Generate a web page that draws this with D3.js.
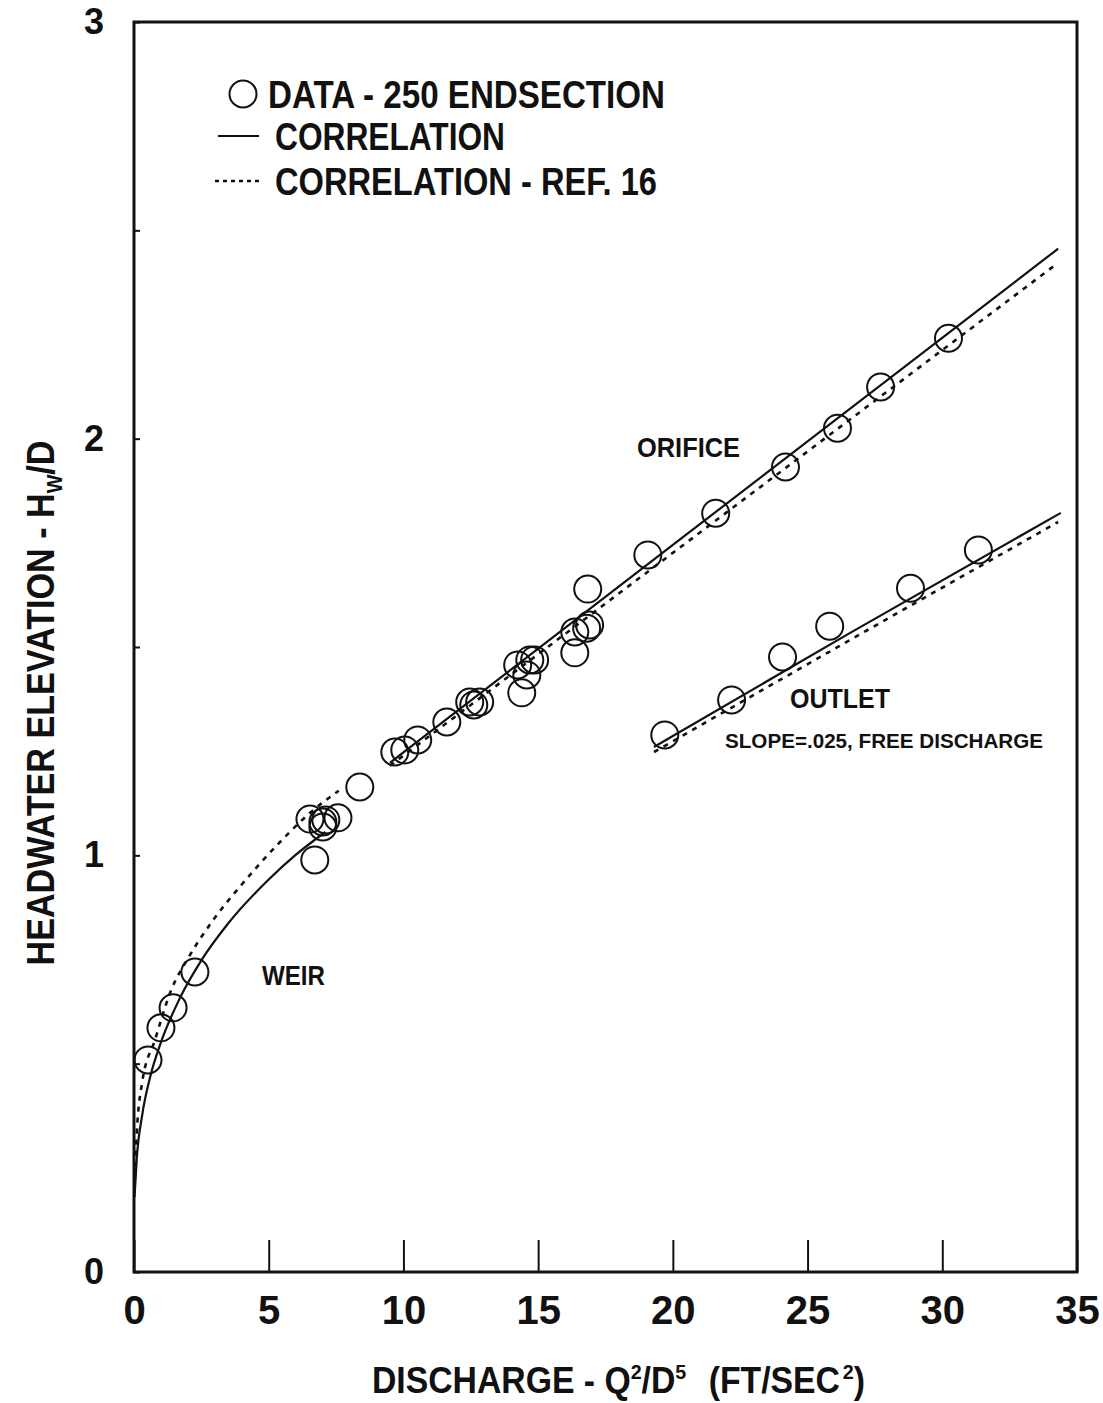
<!DOCTYPE html>
<html>
<head>
<meta charset="utf-8">
<script src="https://cdn.jsdelivr.net/npm/d3@7"></script>
<style>
  body { margin: 0; background: #fff; }
  text { font-family: "Liberation Sans Narrow", "Liberation Sans", Arial, sans-serif; font-weight: bold; fill: #111; }
</style>
</head>
<body>
<div id="chart"></div>
<script>
// data (x = Q^2/D^5, y = Hw/D)
const weirX = [0.52, 1.00, 1.45, 2.26];
const weirY = [0.509, 0.586, 0.634, 0.720];

const orificeX = [6.53, 7.01, 7.01, 7.12, 7.57, 6.71, 8.38, 9.68, 10.05, 10.53, 11.61,
                  12.46, 12.61, 12.83, 14.24, 14.69, 14.58, 14.39, 14.87,
                  16.36, 16.36, 16.80, 16.91, 16.84, 19.07, 21.59, 24.18, 26.11, 27.71, 30.23];
const orificeY = [1.087, 1.080, 1.068, 1.085, 1.090, 0.989, 1.164, 1.248, 1.253, 1.277, 1.320,
                  1.368, 1.361, 1.368, 1.457, 1.469, 1.433, 1.390, 1.469,
                  1.486, 1.536, 1.545, 1.553, 1.639, 1.721, 1.821, 1.932, 2.025, 2.124, 2.241];

const outletX = [19.70, 22.18, 24.07, 25.82, 28.82, 31.34];
const outletY = [1.289, 1.373, 1.476, 1.550, 1.641, 1.733];

// correlation curves (solid)
const corrWeirX = [0.02, 0.1, 0.3, 0.6, 1.0, 1.7, 2.5, 3.5, 5.0, 6.0, 7.1];
const corrWeirY = [0.18, 0.27, 0.375, 0.468, 0.551, 0.657, 0.748, 0.837, 0.942, 1.001, 1.056];
const corrOrificeX = [9.5, 20, 34.3];
const corrOrificeY = [1.222, 1.745, 2.456];
const corrOutletX = [19.3, 26.5, 34.4];
const corrOutletY = [1.26, 1.531, 1.822];

// correlation - ref. 16 (dashed)
const refWeirX = [0.02, 0.1, 0.3, 0.78, 1.34, 2.08, 3.0, 4.0, 5.42, 6.5, 7.6];
const refWeirY = [0.2, 0.33, 0.454, 0.557, 0.67, 0.761, 0.85, 0.93, 1.032, 1.1, 1.155];
const refOrificeX = [9.5, 20, 34.2];
const refOrificeY = [1.215, 1.726, 2.417];
const refOutletX = [19.3, 26.5, 34.3];
const refOutletY = [1.248, 1.514, 1.80];

const xTicks = [0, 5, 10, 15, 20, 25, 30, 35];
const yTicks = [0, 0.5, 1, 1.5, 2, 2.5, 3];

const W = 1103, H = 1403;
const x = d3.scaleLinear().domain([0, 35]).range([134, 1077]);
const y = d3.scaleLinear().domain([0, 3]).range([1272, 22]);

const svg = d3.select("#chart").append("svg")
  .attr("width", W).attr("height", H);

const zip = (xs, ys) => xs.map((v, i) => [v, ys[i]]);
const line = d3.line().x(d => x(d[0])).y(d => y(d[1])).curve(d3.curveMonotoneX);

// x axis: long inward ticks, labels below
const xAxis = svg.append("g")
  .attr("transform", `translate(0,${y(0)})`)
  .call(d3.axisBottom(x).tickValues(xTicks).tickSizeInner(-32).tickSizeOuter(0).tickPadding(24)
    .tickFormat(d3.format("d")));
xAxis.select(".domain").remove();
xAxis.selectAll("line").attr("stroke", "#111").attr("stroke-width", 2);
xAxis.selectAll("text").attr("font-size", 40).attr("fill", "#111")
  .style("font-family", '"Liberation Sans Narrow", "Liberation Sans", Arial, sans-serif')
  .style("font-weight", "bold");

// y axis: short inward ticks at halves, integer labels
const yAxis = svg.append("g")
  .attr("transform", `translate(${x(0)},0)`)
  .call(d3.axisLeft(y).tickValues(yTicks).tickSizeInner(-6).tickSizeOuter(0).tickPadding(30)
    .tickFormat(d => Number.isInteger(d) ? d : ""));
yAxis.select(".domain").remove();
yAxis.selectAll("line").attr("stroke", "#111").attr("stroke-width", 2);
yAxis.selectAll("text").attr("font-size", 36).attr("fill", "#111")
  .style("font-family", '"Liberation Sans Narrow", "Liberation Sans", Arial, sans-serif')
  .style("font-weight", "bold");

// frame
svg.append("rect")
  .attr("x", x(0)).attr("y", y(3))
  .attr("width", x(35) - x(0)).attr("height", y(0) - y(3))
  .attr("fill", "none").attr("stroke", "#111").attr("stroke-width", 3);

// curves
const solid = [zip(corrWeirX, corrWeirY), zip(corrOrificeX, corrOrificeY), zip(corrOutletX, corrOutletY)];
const dashed = [zip(refWeirX, refWeirY), zip(refOrificeX, refOrificeY), zip(refOutletX, refOutletY)];

svg.append("g").selectAll("path").data(solid).enter().append("path")
  .attr("d", line).attr("fill", "none").attr("stroke", "#111").attr("stroke-width", 2.2);

svg.append("g").selectAll("path").data(dashed).enter().append("path")
  .attr("d", line).attr("fill", "none").attr("stroke", "#111").attr("stroke-width", 2.6)
  .attr("stroke-dasharray", "5,6");

// data circles
const pts = zip(weirX, weirY).concat(zip(orificeX, orificeY), zip(outletX, outletY));
svg.append("g").selectAll("circle").data(pts).enter().append("circle")
  .attr("cx", d => x(d[0])).attr("cy", d => y(d[1])).attr("r", 13.5)
  .attr("fill", "none").attr("stroke", "#111").attr("stroke-width", 2);

// legend
svg.append("circle").attr("cx", 243).attr("cy", 94).attr("r", 13.5)
  .attr("fill", "none").attr("stroke", "#111").attr("stroke-width", 2);
svg.append("line").attr("x1", 218).attr("x2", 259).attr("y1", 136).attr("y2", 136)
  .attr("stroke", "#111").attr("stroke-width", 2.2);
svg.append("line").attr("x1", 215).attr("x2", 262).attr("y1", 181).attr("y2", 181)
  .attr("stroke", "#111").attr("stroke-width", 2.4).attr("stroke-dasharray", "4,4");

function label(txt, px, py, size, len) {
  const t = svg.append("text").attr("x", px).attr("y", py).attr("font-size", size).text(txt);
  if (len) t.attr("textLength", len).attr("lengthAdjust", "spacingAndGlyphs");
  return t;
}
label("DATA - 250 ENDSECTION", 268, 108, 38, 397);
label("CORRELATION", 275, 150, 38, 230);
label("CORRELATION - REF. 16", 275, 195, 38, 382);

label("ORIFICE", 637, 457, 28, 103);
label("WEIR", 262, 985, 28, 63);
label("OUTLET", 790, 708, 28, 100);
label("SLOPE=.025, FREE DISCHARGE", 725, 748, 20, 318);

// x title
const xt = svg.append("text").attr("x", 372).attr("y", 1393).attr("font-size", 36);
xt.append("tspan").text("DISCHARGE - Q");
xt.append("tspan").attr("font-size", 21).attr("dy", -14).text("2");
xt.append("tspan").attr("dy", 14).text("/D");
xt.append("tspan").attr("font-size", 21).attr("dy", -14).text("5");
xt.append("tspan").attr("dy", 14).attr("dx", 24).text("(FT/SEC");
xt.append("tspan").attr("font-size", 21).attr("dy", -14).attr("dx", 3).text("2");
xt.append("tspan").attr("dy", 14).text(")");
xt.attr("textLength", 493).attr("lengthAdjust", "spacingAndGlyphs");

// y title
const yt = svg.append("text")
  .attr("transform", "translate(54,703) rotate(-90)")
  .attr("text-anchor", "middle").attr("font-size", 38);
yt.append("tspan").text("HEADWATER ELEVATION - H");
yt.append("tspan").attr("font-size", 22).attr("dy", 8).text("W");
yt.append("tspan").attr("dy", -8).text("/D");
yt.attr("textLength", 525).attr("lengthAdjust", "spacingAndGlyphs");
</script>
</body>
</html>
